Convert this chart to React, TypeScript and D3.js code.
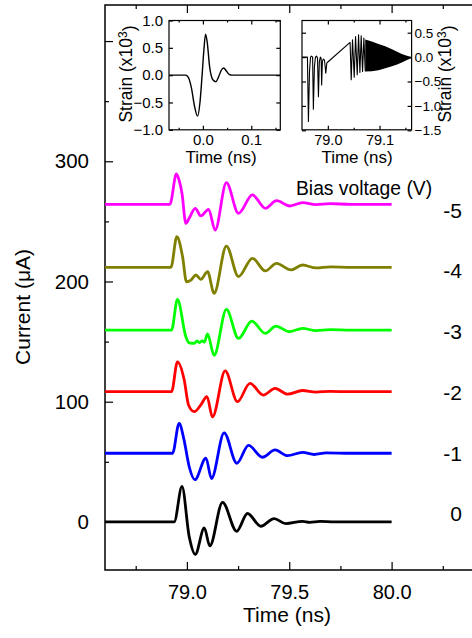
import React, { useRef, useEffect } from 'react';
import * as d3 from 'd3';

// bias voltage per trace, top to bottom
const biasLabels = ['-5', '-4', '-3', '-2', '-1', '0'];
const biasColors = ['#ff00ff', '#808000', '#00ff00', '#ff0000', '#0000ff', '#000000'];
// vertical offset of every trace (uA)
const baselines = [264.2, 211.8, 159.6, 108.3, 57.1, 0];
// where the bias value is written (uA)
const labelPos = [259.5, 209.5, 158.2, 107.3, 57.3, 7.4];

// [time (ns), current change (uA)]
const traceM5 = [
  [78.6, 0], [78.917, 0], [78.949, 25.2], [78.962, 20], [78.976, 9.2], [78.995, -15.8], [79.011, -11.6],
  [79.041, -3.3], [79.068, -9.7], [79.106, -4.2], [79.138, -21.4], [79.193, 18], [79.252, -7.5],
  [79.32, 7.8], [79.383, -3.3], [79.438, 3], [79.503, -1.4], [79.565, 1.4], [79.63, -0.3], [79.7, 0.5],
  [79.8, 0], [80.0, 0],
];
const traceM4 = [
  [78.6, 0], [78.922, 0], [78.951, 25.4], [78.979, 8.8], [78.998, -12], [79.02, -10.6], [79.044, -6.4],
  [79.068, -10], [79.101, -3.6], [79.133, -21.6], [79.193, 17.7], [79.252, -7.8], [79.32, 7.5],
  [79.383, -3], [79.438, 3.3], [79.508, -2.2], [79.565, 1.9], [79.63, -0.5], [79.7, 0.4], [79.8, 0], [80.0, 0],
];
const traceM3 = [
  [78.6, 0], [78.925, 0], [78.954, 25.5], [78.995, -5.5], [79.011, -10.6], [79.036, -11], [79.05, -9],
  [79.06, -10.5], [79.075, -9], [79.085, -10], [79.101, -3.3], [79.133, -21], [79.193, 17.2],
  [79.252, -7], [79.317, 7.5], [79.383, -2.8], [79.435, 3.3], [79.5, -1.4], [79.565, 1.4], [79.63, -0.5],
  [79.7, 0.3], [79.8, 0], [80.0, 0],
];
const traceM2 = [
  [78.6, 0], [78.925, 0], [78.954, 24.9], [78.987, 9.7], [79.008, -11], [79.036, -16.6], [79.068, -11],
  [79.098, -4], [79.125, -21], [79.187, 17.4], [79.247, -8.3], [79.308, 7], [79.373, -2.8],
  [79.431, 2.8], [79.491, -2], [79.565, 1], [79.63, -0.3], [79.7, 0.3], [79.8, 0], [80.0, 0],
];
const traceM1 = [
  [78.6, 0], [78.93, 0], [78.962, 24.9], [78.985, 12], [79.011, -11], [79.039, -22], [79.093, -4],
  [79.12, -21], [79.182, 17], [79.244, -8.3], [79.301, 6.6], [79.369, -3.3], [79.431, 2.8],
  [79.491, -2], [79.565, 0.8], [79.622, -1], [79.68, 0.3], [79.8, 0], [80.0, 0],
];
const trace0 = [
  [78.6, 0], [78.938, 0], [78.976, 29.6], [79.011, -12], [79.041, -27], [79.085, -5], [79.112, -20],
  [79.174, 16.3], [79.243, -7.8], [79.296, 7], [79.361, -3.6], [79.426, 2.8], [79.483, -1.4],
  [79.565, 0.5], [79.6, -0.3], [79.65, 0.4], [79.72, 0], [80.0, 0],
];
const traces = [traceM5, traceM4, traceM3, traceM2, traceM1, trace0];

const xMajor = [79.0, 79.5, 80.0];
const xMinor = [78.75, 79.25, 79.75, 80.25];
const yMajor = [0, 100, 200, 300, 400];
const yLabels = ['0', '100', '200', '300'];
const yMinor = [50, 150, 250, 350];

// inset left: strain pulse [time (ns), strain (x10^3)]
const pulse = [
  [-0.07, 0], [-0.036, 0], [-0.03, -0.04], [-0.024, -0.22], [-0.017, -0.58], [-0.011, -0.75],
  [-0.006, -0.5], [-0.002, -0.05], [0.002, 0.45], [0.0055, 0.75], [0.009, 0.6], [0.014, 0.15],
  [0.021, -0.09], [0.027, -0.12], [0.033, -0.02], [0.038, 0.09], [0.043, 0.13], [0.049, 0.07],
  [0.055, 0.01], [0.06, 0], [0.16, 0],
];
const pulseXTicks = [0.0, 0.1];
const pulseXMinor = [-0.05, 0.05, 0.15];
const pulseYTicks = [-1.0, -0.5, 0.0, 0.5, 1.0];

// inset right: strain at the device [time (ns), strain (x10^3)]
const echo = [
  [78.95, 0], [78.9605, 0], [78.9624, -1.32], [78.9645, -0.3], [78.9665, 0], [78.9685, 0.02], [78.9705, 0],
  [78.972, -1.07], [78.974, -0.2], [78.976, 0], [78.978, 0.02], [78.98, -0.02], [78.9818, -0.81],
  [78.9835, -0.1], [78.9855, 0], [78.987, -0.02], [78.988, -0.57], [78.9895, -0.08], [78.9915, -0.04],
  [78.9935, -0.06], [78.996, -0.33], [78.998, -0.12], [79.0, -0.1], [79.043, 0.3], [79.0452, -0.465],
  [79.0477, 0.355], [79.051, -0.41], [79.0536, 0.42], [79.0568, -0.36], [79.0594, 0.457], [79.062, -0.315],
  [79.0645, 0.436], [79.0671, -0.295], [79.0697, 0.39], [79.0723, -0.29],
];
// envelope of the dense ringing
const ringUpper = [
  [79.0723, 0.36], [79.085, 0.32], [79.098, 0.27], [79.111, 0.22], [79.124, 0.16], [79.134, 0.11],
  [79.143, 0.065], [79.153, 0.03], [79.162, 0.0],
];
const ringLower = [
  [79.0723, -0.295], [79.085, -0.29], [79.098, -0.27], [79.111, -0.23], [79.124, -0.19], [79.134, -0.15],
  [79.143, -0.11], [79.153, -0.06], [79.162, -0.02],
];
const echoXTicks = [79.0, 79.1];
const echoXMinor = [79.05, 79.15];
const echoYTicks = [-1.5, -1.0, -0.5, 0.0, 0.5];

const FONT = '"Liberation Sans", Arial, Helvetica, sans-serif';

export default function App() {
  const svgRef = useRef<SVGSVGElement | null>(null);

  useEffect(() => {
    const svg = d3.select(svgRef.current);
    svg.selectAll('*').remove();

    const tidy = (g: any, size: number) => {
      g.select('.domain').remove();
      g.selectAll('line').attr('stroke', '#000').attr('stroke-width', 1.2);
      g.selectAll('text').attr('font-family', FONT).attr('font-size', size).attr('fill', '#000');
    };
    const blank = () => '';

    // ---- main plot
    const x = d3.scaleLinear().domain([78.6, 80.4]).range([105, 473.5]);
    const y = d3.scaleLinear().domain([-40, 430]).range([570, 5]);

    svg.append('g').attr('transform', 'translate(0,570)')
      .call(d3.axisBottom(x).tickValues(xMajor).tickSize(-8).tickPadding(15).tickFormat(d3.format('.1f')))
      .call(tidy, 20);
    svg.append('g').attr('transform', 'translate(0,570)')
      .call(d3.axisBottom(x).tickValues(xMinor).tickSize(-4).tickFormat(blank))
      .call(tidy, 20);
    svg.append('g').attr('transform', 'translate(0,5)')
      .call(d3.axisTop(x).tickValues(xMajor).tickSize(-8).tickFormat(blank))
      .call(tidy, 20);
    svg.append('g').attr('transform', 'translate(0,5)')
      .call(d3.axisTop(x).tickValues(xMinor).tickSize(-4).tickFormat(blank))
      .call(tidy, 20);
    svg.append('g').attr('transform', 'translate(105,0)')
      .call(d3.axisLeft(y).tickValues(yMajor).tickSize(-8).tickPadding(16)
        .tickFormat((d: any, i: number) => yLabels[i] ?? ''))
      .call(tidy, 20.5);
    svg.append('g').attr('transform', 'translate(105,0)')
      .call(d3.axisLeft(y).tickValues(yMinor).tickSize(-4).tickFormat(blank))
      .call(tidy, 20);

    svg.append('rect')
      .attr('x', 105).attr('y', 5)
      .attr('width', 368.5).attr('height', 565)
      .attr('fill', 'none').attr('stroke', '#000').attr('stroke-width', 1.5);

    // traces
    traces.forEach((tr, i) => {
      const line = d3.line<number[]>()
        .x(d => x(d[0]))
        .y(d => y(d[1] + baselines[i]))
        .curve(d3.curveMonotoneX);
      svg.append('path')
        .attr('d', line(tr))
        .attr('fill', 'none')
        .attr('stroke', biasColors[i])
        .attr('stroke-width', 2.8)
        .attr('stroke-linejoin', 'round');
      svg.append('text')
        .attr('x', 462).attr('y', y(labelPos[i]))
        .attr('dy', '0.36em')
        .attr('text-anchor', 'end')
        .attr('font-family', FONT).attr('font-size', 21)
        .text(biasLabels[i]);
    });

    svg.append('text')
      .attr('x', 296).attr('y', 195)
      .attr('font-family', FONT).attr('font-size', 19.3)
      .text('Bias voltage (V)');

    svg.append('text')
      .attr('x', 287).attr('y', 622)
      .attr('text-anchor', 'middle')
      .attr('font-family', FONT).attr('font-size', 21)
      .text('Time (ns)');
    svg.append('text')
      .attr('transform', 'translate(22,307) rotate(-90)')
      .attr('dy', '0.36em')
      .attr('text-anchor', 'middle')
      .attr('font-family', FONT).attr('font-size', 21)
      .text('Current (\u03bcA)');

    // ---- insets
    const strainTitle = (g: any, cx: number, cy: number) => {
      const t = g.append('text')
        .attr('transform', `translate(${cx},${cy}) rotate(-90)`)
        .attr('dy', '0.36em')
        .attr('text-anchor', 'middle')
        .attr('font-family', FONT).attr('font-size', 17.5);
      t.append('tspan').text('Strain (x10');
      t.append('tspan').attr('dy', '-0.45em').attr('font-size', 12).text('3');
      t.append('tspan').attr('dy', '0.45em').text(')');
    };
    const top = 20.5, bottom = 129.8;

    // left inset
    const ax = d3.scaleLinear().domain([-0.07, 0.16]).range([169, 280.3]);
    const ay = d3.scaleLinear().domain([-1, 1]).range([bottom, top]);
    const inA = svg.append('g');
    inA.append('rect').attr('x', 169).attr('y', top).attr('width', 111.3).attr('height', bottom - top)
      .attr('fill', '#fff').attr('stroke', '#000').attr('stroke-width', 1.2);
    inA.append('g').attr('transform', `translate(0,${bottom})`)
      .call(d3.axisBottom(ax).tickValues(pulseXTicks).tickSize(-4).tickPadding(5).tickFormat(d3.format('.1f')))
      .call(tidy, 15);
    inA.append('g').attr('transform', `translate(0,${bottom})`)
      .call(d3.axisBottom(ax).tickValues(pulseXMinor).tickSize(-2).tickFormat(blank)).call(tidy, 15);
    inA.append('g').attr('transform', `translate(0,${top})`)
      .call(d3.axisTop(ax).tickValues(pulseXTicks).tickSize(-4).tickFormat(blank)).call(tidy, 15);
    inA.append('g').attr('transform', `translate(0,${top})`)
      .call(d3.axisTop(ax).tickValues(pulseXMinor).tickSize(-2).tickFormat(blank)).call(tidy, 15);
    inA.append('g').attr('transform', 'translate(169,0)')
      .call(d3.axisLeft(ay).tickValues(pulseYTicks).tickSize(-4).tickPadding(6).tickFormat(d3.format('.1f')))
      .call(tidy, 15);
    inA.append('g').attr('transform', 'translate(280.3,0)')
      .call(d3.axisRight(ay).tickValues(pulseYTicks).tickSize(-4).tickFormat(blank)).call(tidy, 15);
    inA.append('path')
      .attr('d', d3.line<number[]>().x(d => ax(d[0])).y(d => ay(d[1])).curve(d3.curveMonotoneX)(pulse))
      .attr('fill', 'none').attr('stroke', '#000').attr('stroke-width', 1.4);
    inA.append('text').attr('x', 221).attr('y', 163).attr('text-anchor', 'middle')
      .attr('font-family', FONT).attr('font-size', 17).text('Time (ns)');
    strainTitle(inA, 126, 74);

    // right inset
    const bx = d3.scaleLinear().domain([78.95, 79.162]).range([302, 411.6]);
    const by = d3.scaleLinear().domain([-1.5, 0.75]).range([130.3, top]);
    const inB = svg.append('g');
    inB.append('rect').attr('x', 302).attr('y', top).attr('width', 109.6).attr('height', bottom - top)
      .attr('fill', '#fff').attr('stroke', '#000').attr('stroke-width', 1.2);
    inB.append('g').attr('transform', `translate(0,${bottom})`)
      .call(d3.axisBottom(bx).tickValues(echoXTicks).tickSize(-4).tickPadding(5).tickFormat(d3.format('.1f')))
      .call(tidy, 14.5);
    inB.append('g').attr('transform', `translate(0,${bottom})`)
      .call(d3.axisBottom(bx).tickValues(echoXMinor).tickSize(-2).tickFormat(blank)).call(tidy, 14);
    inB.append('g').attr('transform', `translate(0,${top})`)
      .call(d3.axisTop(bx).tickValues(echoXTicks).tickSize(-4).tickFormat(blank)).call(tidy, 14);
    inB.append('g').attr('transform', `translate(0,${top})`)
      .call(d3.axisTop(bx).tickValues(echoXMinor).tickSize(-2).tickFormat(blank)).call(tidy, 14);
    inB.append('g').attr('transform', 'translate(411.6,0)')
      .call(d3.axisRight(by).tickValues(echoYTicks).tickSize(-4).tickPadding(3).tickFormat(d3.format('.1f')))
      .call(tidy, 13.5);
    inB.append('g').attr('transform', 'translate(302,0)')
      .call(d3.axisLeft(by).tickValues(echoYTicks).tickSize(-4).tickFormat(blank)).call(tidy, 14);
    const ring = ringUpper.map((d, i) => [d[0], d[1], ringLower[i][1]]);
    inB.append('path')
      .attr('d', d3.area<number[]>().x(d => bx(d[0])).y0(d => by(d[2])).y1(d => by(d[1]))(ring))
      .attr('fill', '#000');
    inB.append('path')
      .attr('d', d3.line<number[]>().x(d => bx(d[0])).y(d => by(d[1]))(echo))
      .attr('fill', 'none').attr('stroke', '#000').attr('stroke-width', 1.1)
      .attr('stroke-linejoin', 'round');
    inB.append('text').attr('x', 357).attr('y', 163).attr('text-anchor', 'middle')
      .attr('font-family', FONT).attr('font-size', 17).text('Time (ns)');
    strainTitle(inB, 445, 74);
  }, []);

  return (
    <div style={{ position: 'absolute', left: 0, top: 0, width: 472, height: 638, overflow: 'hidden', background: '#fff' }}>
      <svg ref={svgRef} width={472} height={638} style={{ display: 'block' }} />
    </div>
  );
}
